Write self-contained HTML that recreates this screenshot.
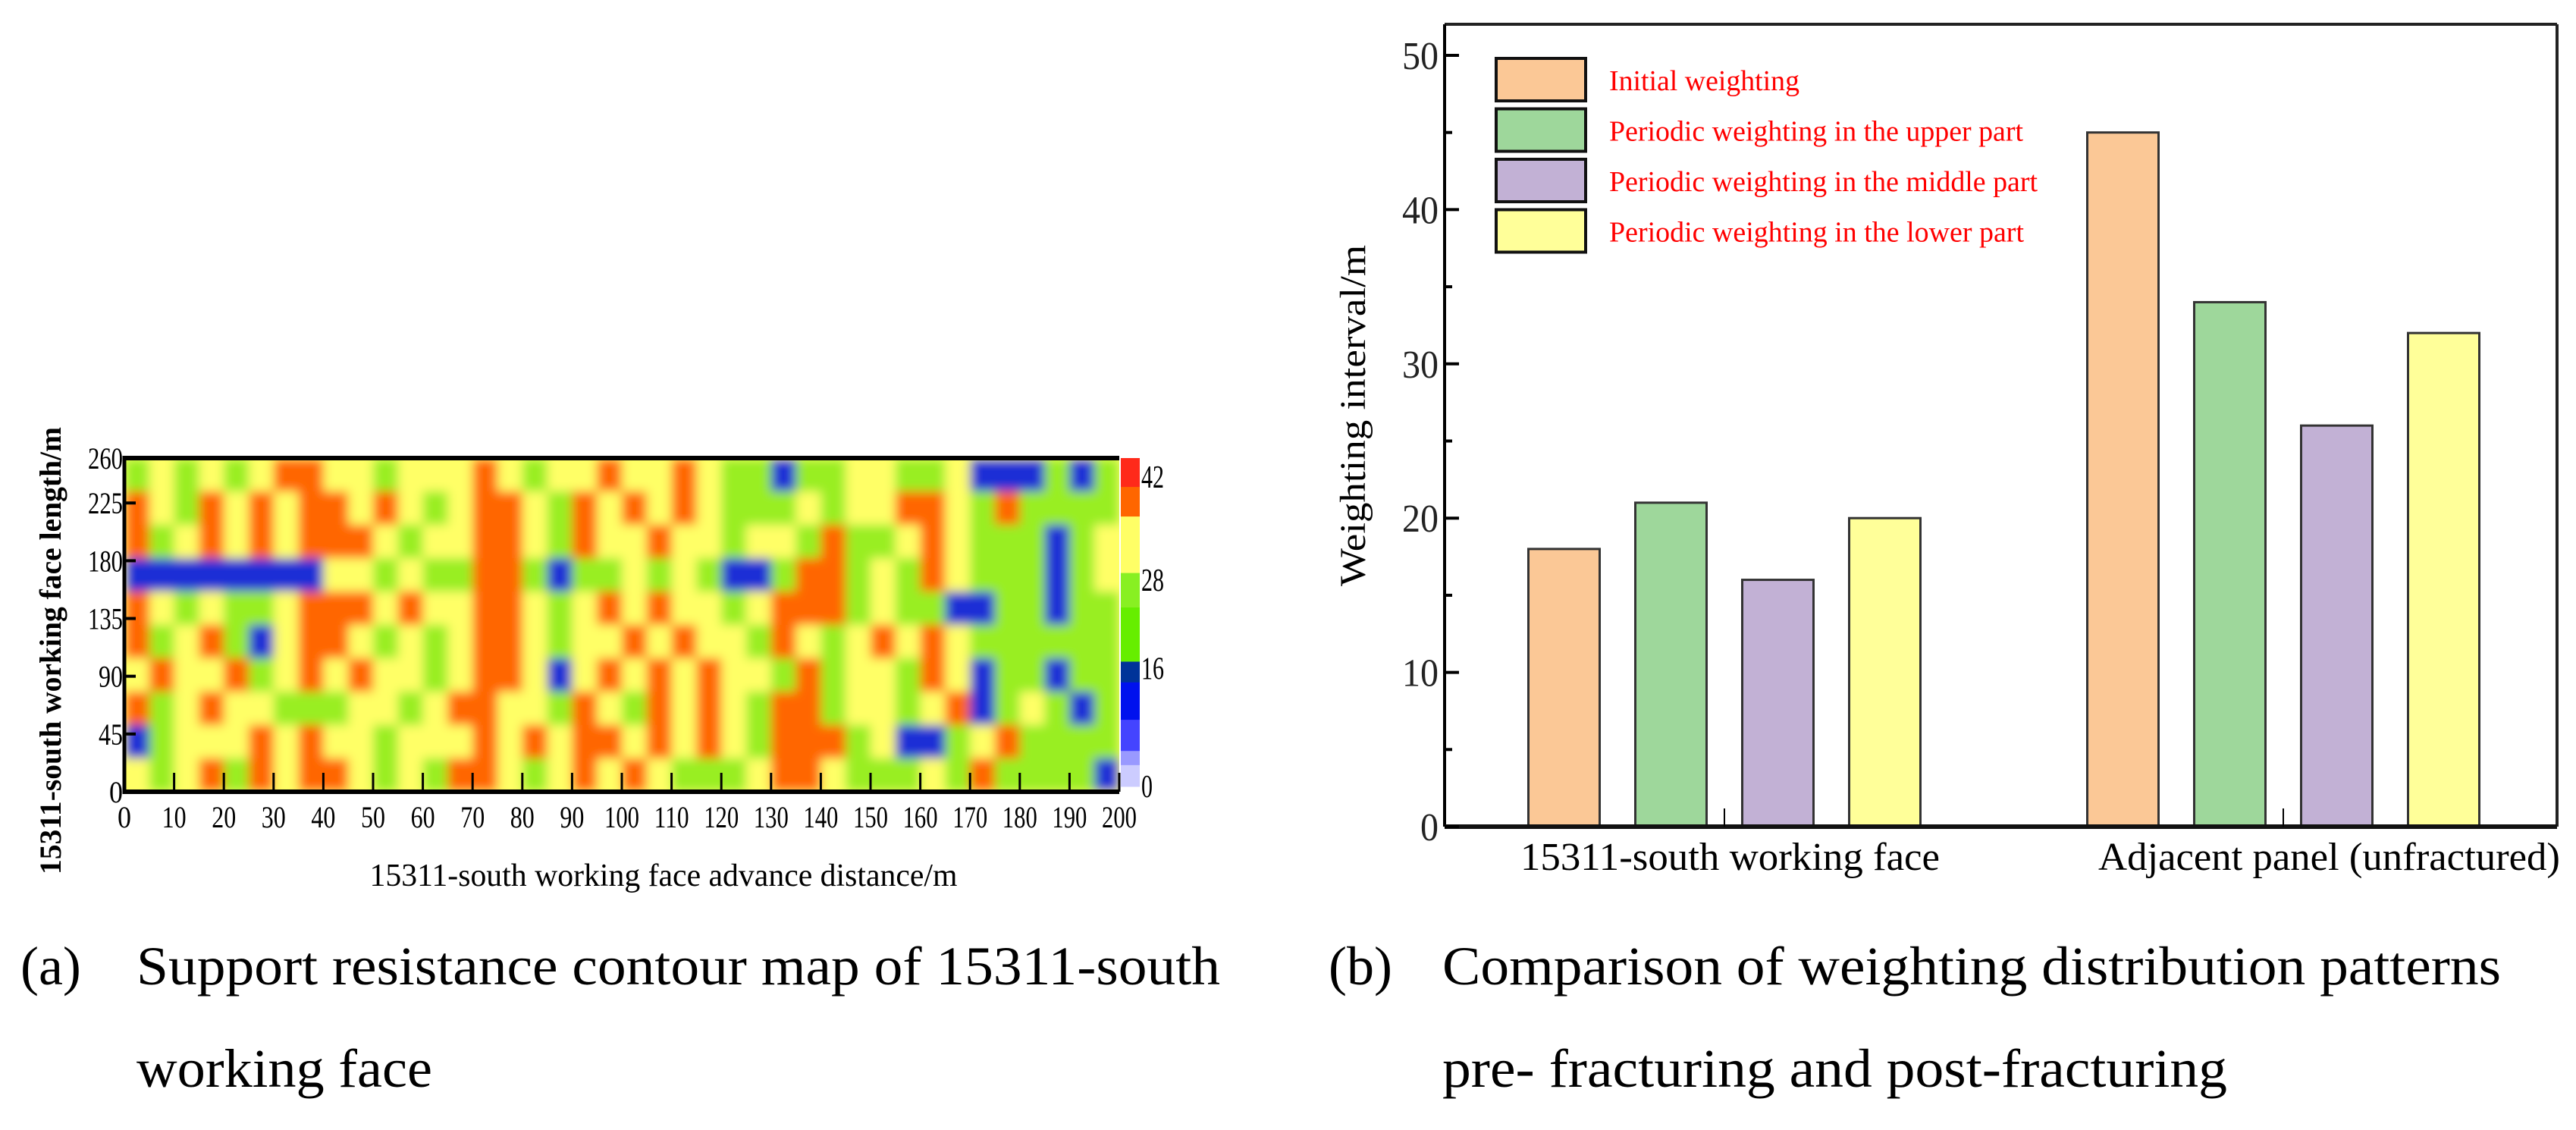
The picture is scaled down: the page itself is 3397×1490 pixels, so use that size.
<!DOCTYPE html>
<html><head><meta charset="utf-8"><style>
html,body{margin:0;padding:0;background:#fff;}
svg, svg text{font-family:"Liberation Serif","DejaVu Serif",serif;}
</style></head><body>
<svg id="fig" width="3397" height="1485" viewBox="0 0 3397 1485" xmlns="http://www.w3.org/2000/svg" font-family="Liberation Serif, DejaVu Serif, serif">
<defs>
<filter id="soft" filterUnits="userSpaceOnUse" x="150" y="590" width="1340" height="470"><feGaussianBlur stdDeviation="7"/></filter>
<clipPath id="mapclip"><rect x="164" y="604" width="1312" height="440"/></clipPath>
</defs>
<g id="mapg" clip-path="url(#mapclip)"><g id="cells" filter="url(#soft)"></g></g>
<g id="axA"></g>
<g id="cbar"></g>
<text x="0" y="0" transform="translate(80,858) rotate(-90)" font-size="40" font-weight="bold" text-anchor="middle" textLength="590" lengthAdjust="spacingAndGlyphs">15311-south working face length/m</text>
<text x="875" y="1168" font-size="42" text-anchor="middle" textLength="775" lengthAdjust="spacingAndGlyphs">15311-south working face advance distance/m</text>

<g id="barg"></g>
<text transform="translate(1800,548) rotate(-90)" font-size="48" text-anchor="middle" textLength="450" lengthAdjust="spacingAndGlyphs">Weighting interval/m</text>

<text x="27" y="1298" font-size="72">(a)</text>
<text x="180" y="1298" font-size="72" textLength="1429" lengthAdjust="spacingAndGlyphs">Support resistance contour map of 15311-south</text>
<text x="180" y="1433" font-size="72" textLength="390" lengthAdjust="spacingAndGlyphs">working face</text>
<text x="1752" y="1298" font-size="72">(b)</text>
<text x="1902" y="1298" font-size="72" textLength="1396" lengthAdjust="spacingAndGlyphs">Comparison of weighting distribution patterns</text>
<text x="1902" y="1433" font-size="72" textLength="1035" lengthAdjust="spacingAndGlyphs">pre- fracturing and post-fracturing</text>
</svg>
<script>
// ---- contour map data (top row = 260 m, 5 m columns) ----
const mapRows = [
"GYGYGYOOYYGYYYOYGYYOYYOYGGBGGYYGGYBBBGBG",
"OYGOYOYOOYOYGYOOYGOYOYOYGGGYGYYOOYGOGGGG",
"OGYOYOYOOOYGYYOOYGOYYOYYGYYGOGGYOYGGGBGY",
"BBBBBBBBYYGYGGOOGBGGYGYGBBGOOGYGOYGGGBGY",
"OYGYGGYOOOYOYYOOYGYOYOYYGYOOOGYGGBBGGBGG",
"OGYOGBYOOYGYGYOOYGYYOYOYYGOYGYOYOYGGGGGG",
"YOYYOGYOYOYYGYOOYBYOYOYOYYGOGYYGOYBGGBGG",
"OGYOYYGGGYYGYOOYYGOYGOYOYGOOGYYGYOBGYGBG",
"BGYYYOYOYYGYYYOYOYOOYOYOYGOOOGYBBGYOGGGG",
"YGYOGOYOOYGYGOOYGYOYOYGGGYOOYGGGYGOGGGGB"
];
const mapLevels = {O:38, Y:32, G:24, B:12};
const xTicksA = [0,10,20,30,40,50,60,70,80,90,100,110,120,130,140,150,160,170,180,190,200];
const yTicksA = [0,45,90,135,180,225,260];
const cbLabels = [0,16,28,42];

// ---- bar chart data ----
const groups = ["15311-south working face","Adjacent panel (unfractured)"];
const seriesNames = ["Initial weighting","Periodic weighting in the upper part","Periodic weighting in the middle part","Periodic weighting in the lower part"];
const initialW = [18,45];
const upperW = [21,34];
const middleW = [16,26];
const lowerW = [20,32];
const yTicksB = [0,10,20,30,40,50];

const NS="http://www.w3.org/2000/svg";
const FF="Liberation Serif, DejaVu Serif, serif";
function mk(tag,attrs,parent){const e=document.createElementNS(NS,tag);for(const k in attrs)e.setAttribute(k,attrs[k]);if(tag==='text')e.setAttribute('font-family',FF);parent.appendChild(e);return e;}

// contour axes
const ax0=164, ax1=1476, ay0=1044, ay1=604;
const xA=v=>ax0+(v/200)*(ax1-ax0);
const yA=v=>ay0-(v/260)*(ay0-ay1);
function colorFor(v){if(v>=36)return"#ff6600";if(v>=30)return"#ffff66";if(v>=18)return"#99ee22";return"#1a2fd6";}
const cells=document.getElementById('cells');
const nR=mapRows.length, nC=mapRows[0].length;
mk('rect',{x:ax0-20,y:ay1-20,width:ax1-ax0+40,height:ay0-ay1+40,fill:"#ffff66"},cells);
for(let r=0;r<nR;r++){for(let c=0;c<nC;c++){
  const v=mapLevels[mapRows[r][c]];
  const x0=xA(c*200/nC), x1=xA((c+1)*200/nC);
  const yTop=yA(260-r*260/nR), yBot=yA(260-(r+1)*260/nR);
  const el=mk('rect',{x:x0,y:yTop,width:x1-x0+0.5,height:yBot-yTop+0.5,fill:colorFor(v)},cells);
  
  
}}
const axA=document.getElementById('axA');
mk('line',{x1:ax0-2,y1:ay1,x2:ax1,y2:ay1,stroke:"#000","stroke-width":6},axA);
mk('line',{x1:ax0-2,y1:ay0,x2:ax1,y2:ay0,stroke:"#000","stroke-width":6},axA);
mk('line',{x1:ax0,y1:ay1-3,x2:ax0,y2:ay0+3,stroke:"#000","stroke-width":5},axA);
xTicksA.forEach(v=>{
  mk('line',{x1:xA(v),y1:ay0,x2:xA(v),y2:ay0-25,stroke:"#000","stroke-width":3},axA);
  const t=mk('text',{x:xA(v),y:1091,"font-size":40,"text-anchor":"middle",textLength:String(v).length*14+4,lengthAdjust:"spacingAndGlyphs"},axA);
  t.textContent=v;
  
  
});
yTicksA.forEach(v=>{
  mk('line',{x1:ax0,y1:yA(v),x2:ax0+15,y2:yA(v),stroke:"#000","stroke-width":4},axA);
  const t=mk('text',{x:ax0-2,y:yA(v)+14,"font-size":40,"text-anchor":"end",textLength:String(v).length*14+4,lengthAdjust:"spacingAndGlyphs"},axA);
  t.textContent=v;
  
  
});
// colorbar
const cb=document.getElementById('cbar');
const cbTop=604, cbBot=1037, cbx=1478, cbw=25;
const bands=[["#ff2a1a",0],["#ff6600",0.088],["#ffff66",0.178],["#88f022",0.35],["#66ee00",0.455],["#003399",0.62],["#0011ee",0.683],["#4444ff",0.797],["#9999ff",0.892],["#ccccff",0.935],[null,1]];
for(let i=0;i<bands.length-1;i++){
  const y0=cbTop+bands[i][1]*(cbBot-cbTop), y1=cbTop+bands[i+1][1]*(cbBot-cbTop);
  mk('rect',{x:cbx,y:y0,width:cbw,height:y1-y0+0.5,fill:bands[i][0]},cb);
}
const cbY=v=>cbBot-(v/42)*(cbBot-629);
cbLabels.forEach(v=>{
  const t=mk('text',{x:1505,y:cbY(v)+14,"font-size":42,textLength:String(v).length*15,lengthAdjust:"spacingAndGlyphs"},cb);
  t.textContent=v;
  
  
});

// bar chart
const bx0=1905, bx1=3372, by0=1090, byTop=32;
const yB=v=>by0-v*20.34;
const g=document.getElementById('barg');
const colors=["#fbc896","#9ed79b","#c2b1d5","#ffff99"];
const series=[initialW,upperW,middleW,lowerW];
const groupCenters=[2274,3011];
const barW=94, step=141;
series.forEach((s,si)=>{
  s.forEach((v,gi)=>{
    const cx=groupCenters[gi]+(si-1.5)*step;
    const b=mk('rect',{x:cx-barW/2,y:yB(v),width:barW,height:by0-yB(v),fill:colors[si],stroke:"#333","stroke-width":3},g);
    
    
  });
});
mk('line',{x1:bx0,y1:byTop,x2:bx1,y2:byTop,stroke:"#222","stroke-width":4},g);
mk('line',{x1:bx1,y1:byTop,x2:bx1,y2:by0,stroke:"#222","stroke-width":4},g);
mk('line',{x1:bx0,y1:byTop,x2:bx0,y2:by0,stroke:"#000","stroke-width":4},g);
mk('line',{x1:bx0,y1:by0,x2:bx1,y2:by0,stroke:"#111","stroke-width":6},g);
groupCenters.forEach(c=>mk('line',{x1:c,y1:by0,x2:c,y2:by0-24,stroke:"#000","stroke-width":2},g));
for(let v=5;v<50;v+=10)mk('line',{x1:bx0,y1:yB(v),x2:bx0+10,y2:yB(v),stroke:"#000","stroke-width":4},g);
yTicksB.forEach(v=>{
  mk('line',{x1:bx0,y1:yB(v),x2:bx0+19,y2:yB(v),stroke:"#000","stroke-width":4},g);
  const t=mk('text',{x:1897,y:yB(v)+18,"font-size":52,"text-anchor":"end",fill:"#222",textLength:String(v).length*24,lengthAdjust:"spacingAndGlyphs"},g);
  t.textContent=v;
  
  
});
const glabW=[553,609], glabX=[2005,2767];
groups.forEach((n,i)=>{
  const t=mk('text',{x:glabX[i],y:1147,"font-size":52,textLength:glabW[i],lengthAdjust:"spacingAndGlyphs"},g);
  t.textContent=n;
  
  
});
const legW=[251,546,565,547];
seriesNames.forEach((n,i)=>{
  const y=77+i*66.5;
  const r=mk('rect',{x:1973,y:y,width:118,height:56,fill:colors[i],stroke:"#111","stroke-width":4},g);
  
  
  const t=mk('text',{x:2122,y:y+42,"font-size":38,fill:"#ff0000",textLength:legW[i],lengthAdjust:"spacingAndGlyphs"},g);
  t.textContent=n;
  
  
});
</script>
</body></html>
